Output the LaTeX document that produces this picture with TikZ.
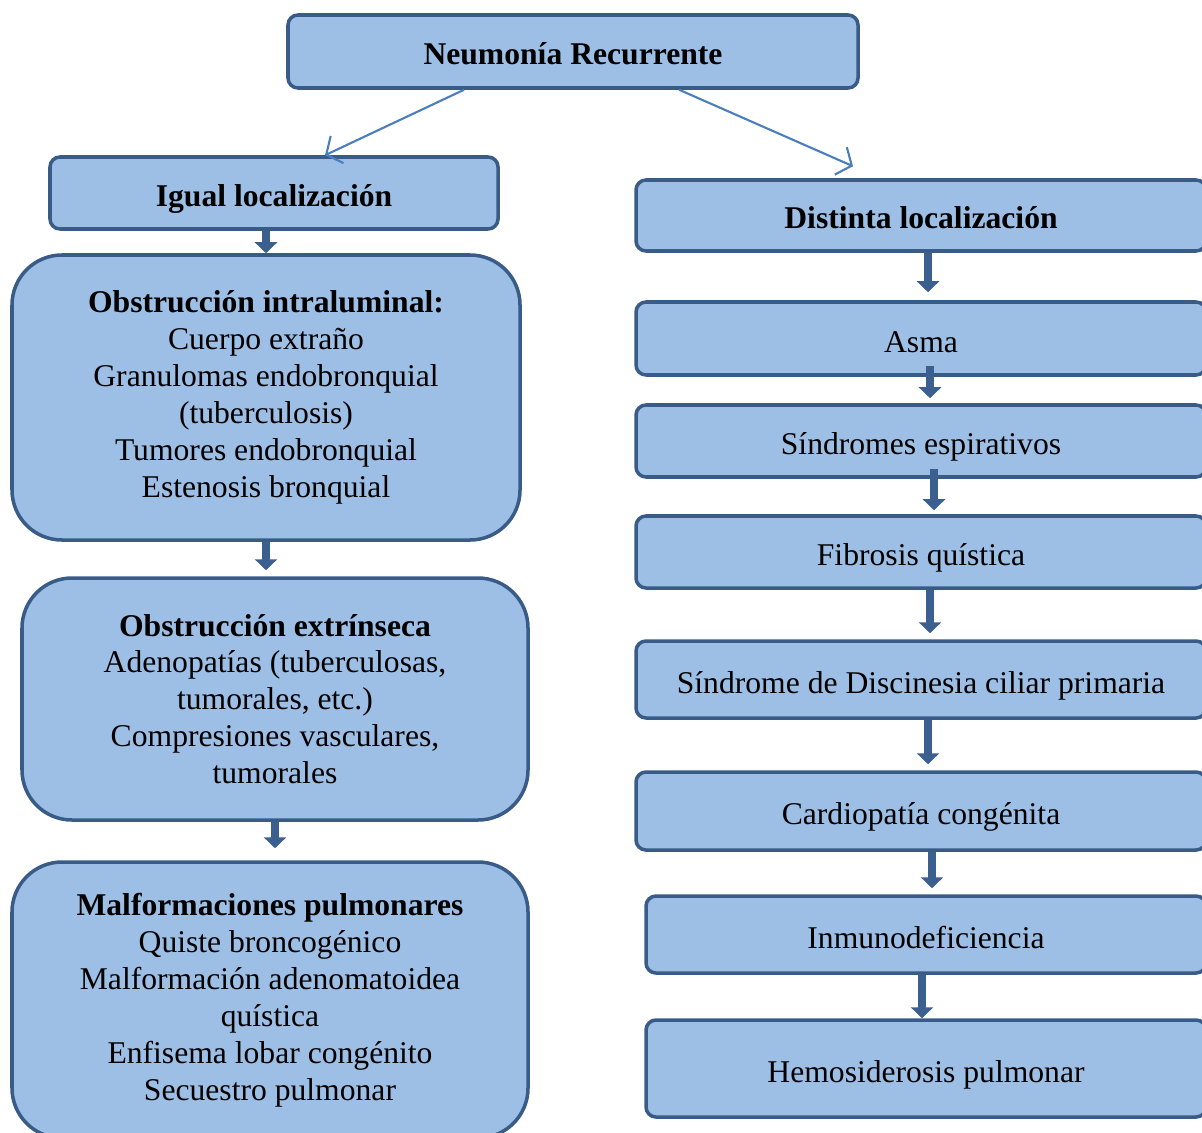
\documentclass[tikz,border=0pt]{standalone}
\usepackage{fontspec}
\setmainfont{Liberation Serif}
\usepackage{xcolor}
\usepackage{tikz}
\usetikzlibrary{positioning,arrows.meta,calc}
\definecolor{cfill}{HTML}{9EBFE5}
\definecolor{cedge}{HTML}{385C87}
\definecolor{carrow}{HTML}{3B6090}
\definecolor{cline}{HTML}{4A7EBD}
\tikzset{
  flatbox/.style={draw=cedge,fill=cfill,line width=1pt,rounded corners=0.1cm,
    font=\fontsize{9}{10.5}\selectfont,inner sep=2pt,
    text height=3.0mm,text depth=0.3mm},
  roundbox/.style={draw=cedge,fill=cfill,line width=1pt,rounded corners=0.5cm,
    font=\fontsize{9}{10.5}\selectfont,align=center,inner sep=2pt},
  blockarrow/.style={draw=carrow,line width=0.085cm,
    -{Triangle[length=0.11cm,width=0.22cm]}},
  thinarrow/.style={draw=cline,line width=0.6pt,
    -{Straight Barb[length=0.12cm,width=0.3cm]}}
}

\begin{document}
\begin{tikzpicture}
  \useasboundingbox (0,0) rectangle (12.02,-11.32);
  \clip (0,0) rectangle (12.02,-11.32);
  % top and the two branches
  \node[flatbox,minimum width=5.7cm,minimum height=0.73cm] (top) at (5.73,-0.515) {\textbf{Neumonía Recurrente}};
  \node[flatbox,minimum width=4.48cm,minimum height=0.72cm] (igual) at (2.74,-1.93) {\textbf{Igual localización}};
  \node[flatbox,minimum width=5.7cm,minimum height=0.71cm] (dist) at (9.21,-2.155) {\textbf{Distinta localización}};
  % left column
  \node[roundbox,minimum width=5.08cm,minimum height=2.85cm] (intra) at (2.66,-3.975) {\textbf{Obstrucción intraluminal:}\\Cuerpo extraño\\Granulomas endobronquial\\(tuberculosis)\\Tumores endobronquial\\Estenosis bronquial};
  \node[roundbox,minimum width=5.06cm,minimum height=2.42cm] (extr) at (2.75,-6.99) {\textbf{Obstrucción extrínseca}\\Adenopatías (tuberculosas,\\tumorales, etc.)\\Compresiones vasculares,\\tumorales};
  \node[roundbox,minimum width=5.16cm,minimum height=2.76cm] (malf) at (2.70,-10.0) {\textbf{Malformaciones pulmonares}\\Quiste broncogénico\\Malformación adenomatoidea\\quística\\Enfisema lobar congénito\\Secuestro pulmonar};
  % right column
  \node[flatbox,minimum width=5.7cm,minimum height=0.73cm] (asma) at (9.21,-3.385) {Asma};
  \node[flatbox,minimum width=5.7cm,minimum height=0.72cm] (espir) at (9.21,-4.41) {Síndromes espirativos};
  \node[flatbox,minimum width=5.7cm,minimum height=0.72cm] (fibr) at (9.21,-5.52) {Fibrosis quística};
  \node[flatbox,minimum width=5.7cm,minimum height=0.77cm] (disc) at (9.21,-6.795) {Síndrome de Discinesia ciliar primaria};
  \node[flatbox,minimum width=5.7cm,minimum height=0.78cm] (card) at (9.21,-8.11) {Cardiopatía congénita};
  \node[flatbox,minimum width=5.6cm,minimum height=0.77cm] (inmu) at (9.26,-9.345) {Inmunodeficiencia};
  \node[flatbox,minimum width=5.6cm,minimum height=0.97cm] (hemo) at (9.26,-10.685) {Hemosiderosis pulmonar};
  % connectors
  \draw[thinarrow] ($(top.south west)!0.31!(top.south east)$) -- ([xshift=0.51cm]igual.north);
  \draw[thinarrow] ($(top.south west)!0.685!(top.south east)$) -- ([xshift=-0.68cm,yshift=0.12cm]dist.north);
  \draw[blockarrow] (igual.south -| intra.north) -- (intra.north);
  \draw[blockarrow] (intra.south) -- ([yshift=0.06cm]intra.south |- extr.north);
  \draw[blockarrow] (extr.south) -- ([yshift=0.12cm]extr.south |- malf.north);
  \draw[blockarrow] ([xshift=0.07cm]dist.south) -- ([xshift=0.07cm,yshift=0.08cm]dist.south |- asma.north);
  \draw[blockarrow] ([xshift=0.09cm,yshift=0.11cm]asma.south) -- ([xshift=0.09cm,yshift=0.05cm]asma.south |- espir.north);
  \draw[blockarrow] ([xshift=0.13cm,yshift=0.1cm]espir.south) -- ([xshift=0.13cm,yshift=0.04cm]espir.south |- fibr.north);
  \foreach \a/\b/\s in {fibr/disc/0.09,disc/card/0.07,card/inmu/0.11}
    \draw[blockarrow] ([xshift=\s cm]\a.south) -- ([xshift=\s cm,yshift=0.06cm]\a.south |- \b.north);
  \draw[blockarrow] ([xshift=-0.04cm]inmu.south) -- ([xshift=-0.04cm]inmu.south |- hemo.north);
\end{tikzpicture}
\end{document}
